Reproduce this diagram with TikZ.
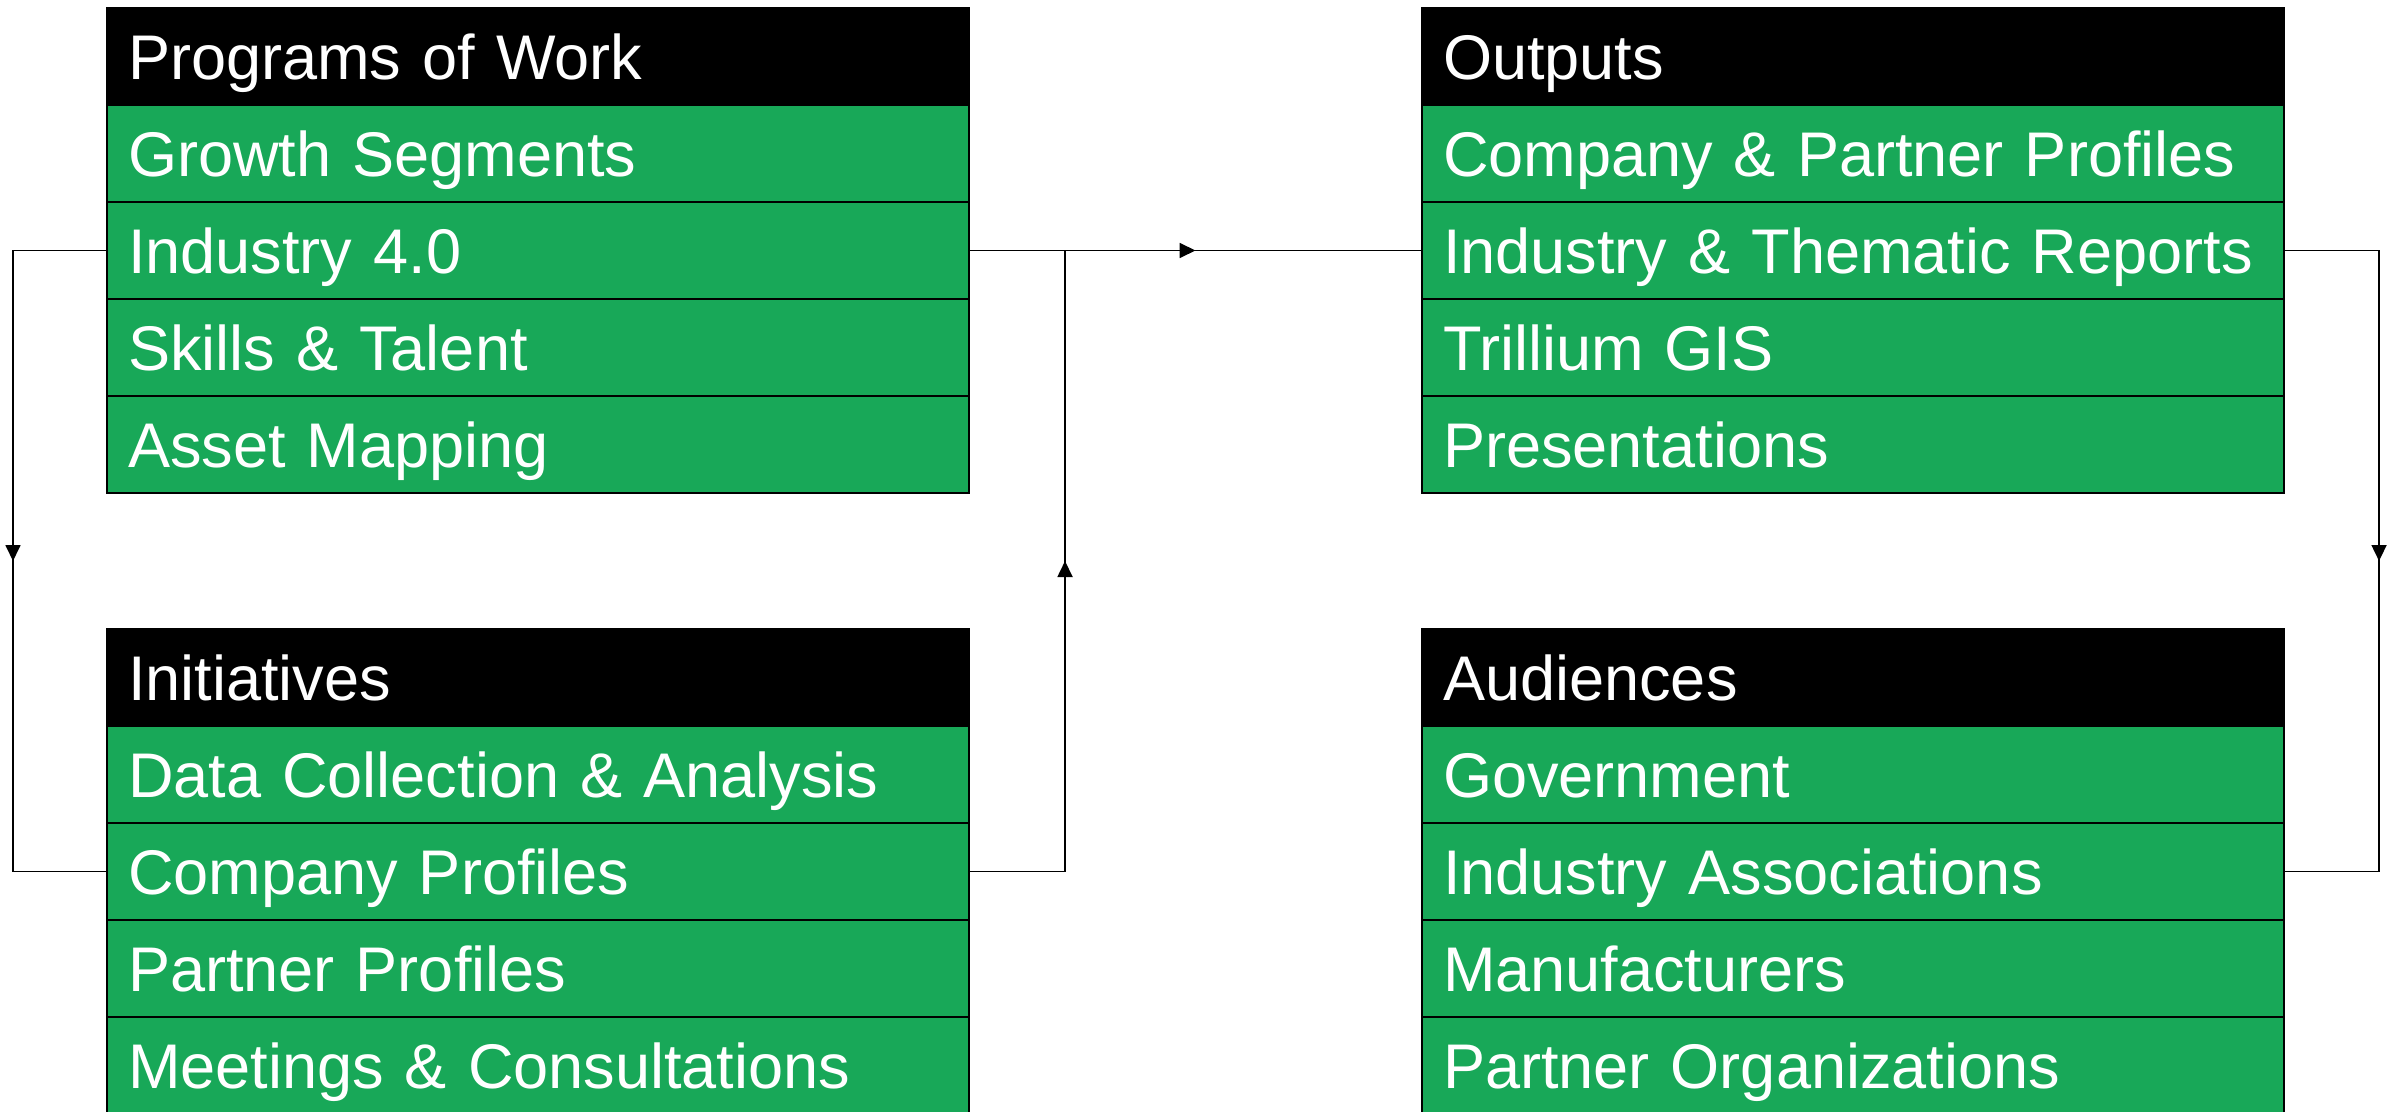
\documentclass[tikz,border=0pt]{standalone}
\usepackage{fontspec}
\setmainfont{Liberation Sans}
\usepackage{xcolor}
\usetikzlibrary{arrows.meta,positioning,decorations.markings}
\definecolor{rowgreen}{RGB}{24,168,88}
\hyphenpenalty=10000

\begin{document}
\begin{tikzpicture}[
  cell/.style={rectangle, draw, line width=0.6pt, outer sep=0pt, minimum width=8.62cm, minimum height=0.97cm, text width=8.2cm, inner xsep=0.21cm, inner ysep=0pt, align=left, text height=0.46cm, text depth=0pt, text=white, font=\fontsize{17.95}{20}\selectfont},
  head/.style={cell, fill=black},
  row/.style={cell, fill=rowgreen},
  link/.style={line width=0.5pt, postaction={decorate}, decoration={markings, mark=at position 0.5 with {\arrow{Triangle[length=0.16cm, width=0.15cm]}}}}
]
\useasboundingbox (0,0) rectangle (23.97,-11.12);

% programs of work
\node[head, anchor=north west] (prog) at (1.07,-0.08) {Programs of Work};
\node[row, below=0pt of prog] (prog1) {Growth Segments};
\node[row, below=0pt of prog1] (prog2) {Industry 4.0};
\node[row, below=0pt of prog2] (prog3) {Skills \& Talent};
\node[row, below=0pt of prog3] (prog4) {Asset Mapping};

% initiatives
\node[head, anchor=north west] (init) at (1.07,-6.29) {Initiatives};
\node[row, below=0pt of init] (init1) {Data Collection \& Analysis};
\node[row, below=0pt of init1] (init2) {Company Profiles};
\node[row, below=0pt of init2] (init3) {Partner Profiles};
\node[row, below=0pt of init3] (init4) {Meetings \& Consultations};

% outputs
\node[head, anchor=north west] (outp) at (14.22,-0.08) {Outputs};
\node[row, below=0pt of outp] (outp1) {Company \& Partner Profiles};
\node[row, below=0pt of outp1] (outp2) {Industry \& Thematic Reports};
\node[row, below=0pt of outp2] (outp3) {Trillium GIS};
\node[row, below=0pt of outp3] (outp4) {Presentations};

% audiences
\node[head, anchor=north west] (aud) at (14.22,-6.29) {Audiences};
\node[row, below=0pt of aud] (aud1) {Government};
\node[row, below=0pt of aud1] (aud2) {Industry Associations};
\node[row, below=0pt of aud2] (aud3) {Manufacturers};
\node[row, below=0pt of aud3] (aud4) {Partner Organizations};

\draw[link] (prog2.west) -- ++(-0.94,0) |- (init2.west);
\draw[link] (init2.east) -- ++(0.96,0) |- (prog2.east);
\draw[link] (prog2.east) -- (outp2.west);
\draw[link] (outp2.east) -- ++(0.95,0) |- (aud2.east);
\end{tikzpicture}
\end{document}
